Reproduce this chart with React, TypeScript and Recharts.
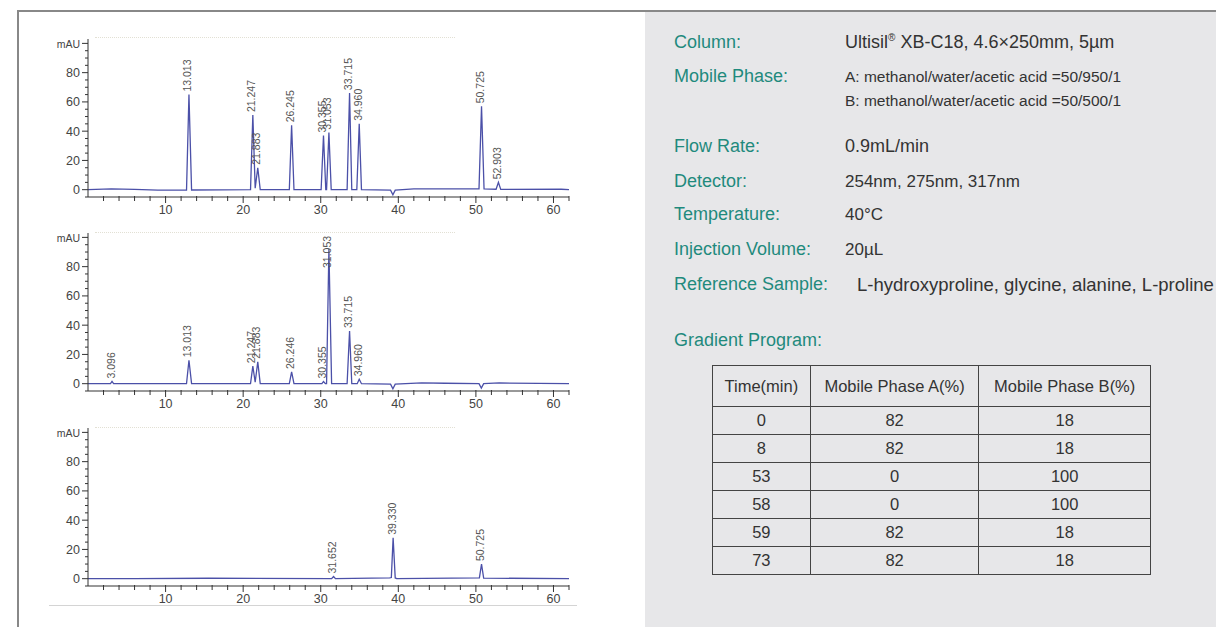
import { ComposedChart, Line, Scatter, XAxis, YAxis } from 'recharts'

// retention time (min) / absorbance (mAU) points
const trace1: [number, number][] = [
  [0, 0], [3, 0.6], [6, 0.2], [9, -0.3], [12.7, -0.3], [13.013, 65], [13.35, -0.2],
  [20.95, 0], [21.247, 51], [21.55, 1], [21.883, 15], [22.2, 0],
  [25.95, 0], [26.245, 44], [26.55, 0],
  [30.05, 0], [30.355, 37], [30.65, 0], [30.75, 0], [31.053, 39], [31.35, 0],
  [33.4, 0], [33.715, 66], [34.0, 0], [34.65, 0], [34.96, 45], [35.25, 0],
  [39.0, -0.3], [39.3, -3.5], [39.6, -0.3], [42, 0.6], [50.4, 0.6], [50.725, 57], [51.05, 0.5],
  [52.6, 0.3], [52.903, 5], [53.2, 0.2], [61, 0.3], [62, 0],
]
const peaks1 = [13.013, 21.247, 21.883, 26.245, 30.355, 31.053, 33.715, 34.96, 50.725, 52.903]
const heights1 = [65, 51, 15, 44, 37, 39, 66, 45, 57, 5]

const trace2: [number, number][] = [
  [0, 0], [2.9, 0], [3.096, 1.5], [3.3, 0], [12.7, 0], [13.013, 16], [13.35, 0],
  [20.95, 0], [21.247, 12], [21.55, 1], [21.883, 15], [22.2, 0],
  [25.95, 0], [26.246, 8], [26.55, 0],
  [30.15, 0], [30.355, 1.5], [30.6, 0], [30.75, 0], [31.053, 92], [31.4, 0],
  [33.4, 0], [33.715, 36], [34.0, 0], [34.7, 0], [34.96, 3], [35.25, 0],
  [39.0, -0.3], [39.3, -3.5], [39.6, -0.3], [43, 0.6], [46, 0.3], [50.4, 0], [50.7, -3], [51, 0],
  [53, 0.5], [62, 0],
]
const peaks2 = [3.096, 13.013, 21.247, 21.883, 26.246, 30.355, 31.053, 33.715, 34.96]
const heights2 = [1.5, 16, 12, 15, 8, 1.5, 92, 36, 3]

const trace3: [number, number][] = [
  [0, 0], [6, 0], [15.5, 0.3], [31.4, 0], [31.652, 1.5], [31.9, 0],
  [38.9, 0.5], [39.1, 0.8], [39.33, 28], [39.6, 0.5], [39.8, 0],
  [50.45, 0.5], [50.725, 10], [51.0, 0.4], [62, 0],
]
const peaks3 = [31.652, 39.33, 50.725]
const heights3 = [1.5, 28, 10]

const xTicks = [2, 4, 6, 8, 10, 12, 14, 16, 18, 20, 22, 24, 26, 28, 30, 32, 34, 36, 38, 40, 42, 44, 46, 48, 50, 52, 54, 56, 58, 60, 62]
const yTicks = [-5, 0, 5, 10, 15, 20, 25, 30, 35, 40, 45, 50, 55, 60, 65, 70, 75, 80, 85, 90, 95, 100]

const conditionLabels = ['Column:', 'Mobile Phase:', 'Flow Rate:', 'Detector:', 'Temperature:', 'Injection Volume:', 'Reference Sample:']
const conditionValues = [
  ['Ultisil', 'XB-C18, 4.6×250mm, 5µm'],
  ['A: methanol/water/acetic acid =50/950/1', 'B: methanol/water/acetic acid =50/500/1'],
  ['0.9mL/min'],
  ['254nm, 275nm, 317nm'],
  ['40°C'],
  ['20µL'],
  ['L-hydroxyproline, glycine, alanine, L-proline'],
]
const valueSizes = [18, 15.5, 18, 17, 17, 17, 18.5]

const gradientHeader = ['Time(min)', 'Mobile Phase A(%)', 'Mobile Phase B(%)']
const gradientTime = [0, 8, 53, 58, 59, 73]
const gradientA = [82, 82, 0, 0, 82, 82]
const gradientB = [18, 18, 100, 100, 18, 18]

const FONT = '"Liberation Sans", Arial, sans-serif'
const TEAL = '#1f8a7d'
const TRACE = '#4b50a8'

const XTick = ({ x, y, payload }: any) => {
  const v = payload.value
  const major = v % 10 === 0
  return (
    <g>
      <line x1={x} x2={x} y1={y - 1} y2={y + (major ? 6 : 4)} stroke="#333" strokeWidth={1} />
      {major && (
        <text x={x} y={y + 17} textAnchor="middle" fontSize={12.5} fill="#444" fontFamily={FONT}>
          {v}
        </text>
      )}
    </g>
  )
}

const YTick = ({ x, y, payload }: any) => {
  const v = payload.value
  const major = v % 20 === 0 || v === 100
  const label = v === 100 ? 'mAU' : v >= 0 && v % 20 === 0 ? String(v) : null
  return (
    <g>
      <line x1={x - (major ? 6 : 3)} x2={x} y1={y} y2={y} stroke="#333" strokeWidth={1} />
      {label && (
        <text x={x - 8} y={y + 4.5} textAnchor="end" fontSize={label === 'mAU' ? 10.5 : 12.5} fill="#444" fontFamily={FONT}>
          {label}
        </text>
      )}
    </g>
  )
}

const PeakLabel = ({ cx, cy, payload }: any) => {
  if (cx == null || cy == null) return <g />
  const len = 33
  const base = Math.max(cy - 3, 21 + len)
  const px = cx - 1.5
  return (
    <text
      x={px}
      y={base}
      transform={`rotate(-90 ${px} ${base})`}
      fontSize={10.5}
      fill="#555"
      fontFamily={FONT}
      dominantBaseline="central"
    >
      {payload.t.toFixed(3)}
    </text>
  )
}

function Chromatogram({ trace, peaks, heights, top }: { trace: [number, number][]; peaks: number[]; heights: number[]; top: number }) {
  const lineData = trace.map(([t, y]) => ({ t, y }))
  const peakData = peaks.map((t, i) => ({ t, y: heights[i] }))
  return (
    <div style={{ position: 'absolute', left: 0, top }}>
      <ComposedChart width={580} height={205} margin={{ top: 19, right: 11, bottom: 0, left: 0 }}>
        <XAxis
          type="number"
          dataKey="t"
          domain={[0, 62]}
          ticks={xTicks}
          interval={0}
          tick={<XTick />}
          tickLine={false}
          tickSize={0}
          tickMargin={0}
          axisLine={{ stroke: '#333' }}
          height={28}
          allowDataOverflow
        />
        <YAxis
          type="number"
          dataKey="y"
          domain={[-5, 103]}
          ticks={yTicks}
          interval={0}
          tick={<YTick />}
          tickLine={false}
          tickSize={0}
          tickMargin={0}
          axisLine={{ stroke: '#333' }}
          width={88}
          allowDataOverflow
        />
        <Line data={lineData} dataKey="y" type="linear" stroke={TRACE} strokeWidth={1.3} dot={false} isAnimationActive={false} />
        <Scatter data={peakData} dataKey="y" shape={<PeakLabel />} isAnimationActive={false} />
      </ComposedChart>
    </div>
  )
}

const rowTops = [33, 67, 137, 172, 205, 240, 275]

export default function App() {
  return (
    <div style={{ position: 'absolute', left: 0, top: 0, width: 1216, height: 627, background: '#fff', overflow: 'hidden', fontFamily: FONT }}>
      <div style={{ position: 'absolute', left: 18, top: 10, width: 1198, height: 2, background: '#888' }} />
      <div style={{ position: 'absolute', left: 17, top: 10, width: 2, height: 617, background: '#888' }} />

      {[37, 232, 427].map((y) => (
        <div key={y} style={{ position: 'absolute', left: 95, top: y, width: 360, borderTop: '1px dotted #e2e0d4' }} />
      ))}
      <Chromatogram trace={trace1} peaks={peaks1} heights={heights1} top={20} />
      <Chromatogram trace={trace2} peaks={peaks2} heights={heights2} top={214} />
      <Chromatogram trace={trace3} peaks={peaks3} heights={heights3} top={409} />
      <div style={{ position: 'absolute', left: 49, top: 605, width: 528, height: 1, background: '#d4d4d4' }} />

      <div style={{ position: 'absolute', left: 645, top: 12, width: 571, height: 615, background: '#e7e7e9', overflow: 'hidden' }}>
        {conditionLabels.map((label, i) => (
          <div key={label}>
            <div style={{ position: 'absolute', left: 29, top: rowTops[i] - 13, fontSize: 18, color: TEAL, whiteSpace: 'nowrap' }}>{label}</div>
            {i === 0 ? (
              <div style={{ position: 'absolute', left: 200, top: rowTops[i] - 13, fontSize: valueSizes[0], color: '#333', whiteSpace: 'nowrap' }}>
                {conditionValues[0][0]}
                <sup style={{ fontSize: 10, verticalAlign: 7 }}>®</sup> {conditionValues[0][1]}
              </div>
            ) : (
              conditionValues[i].map((v, j) => (
                <div
                  key={v}
                  style={{
                    position: 'absolute',
                    left: i === 6 ? 212 : 200,
                    top: rowTops[i] - (valueSizes[i] > 17 ? 13 : 12) + j * 24 + (i === 1 ? 1 : 0),
                    fontSize: valueSizes[i],
                    color: '#333',
                    whiteSpace: 'nowrap',
                  }}
                >
                  {v}
                </div>
              ))
            )}
          </div>
        ))}
        <div style={{ position: 'absolute', left: 29, top: 318, fontSize: 18, color: TEAL }}>Gradient Program:</div>
        <table
          style={{
            position: 'absolute',
            left: 67,
            top: 353,
            width: 439,
            borderCollapse: 'collapse',
            fontSize: 16.5,
            color: '#333',
            textAlign: 'center',
            fontFamily: FONT,
          }}
        >
          <tbody>
            <tr style={{ height: 41 }}>
              {gradientHeader.map((h, i) => (
                <td key={h} style={{ border: '1px solid #444', padding: 0, width: [97, 169, 172][i] }}>{h}</td>
              ))}
            </tr>
            {gradientTime.map((t, i) => (
              <tr key={i} style={{ height: 28 }}>
                <td style={{ border: '1px solid #444', padding: 0 }}>{t}</td>
                <td style={{ border: '1px solid #444', padding: 0 }}>{gradientA[i]}</td>
                <td style={{ border: '1px solid #444', padding: 0 }}>{gradientB[i]}</td>
              </tr>
            ))}
          </tbody>
        </table>
      </div>
    </div>
  )
}
